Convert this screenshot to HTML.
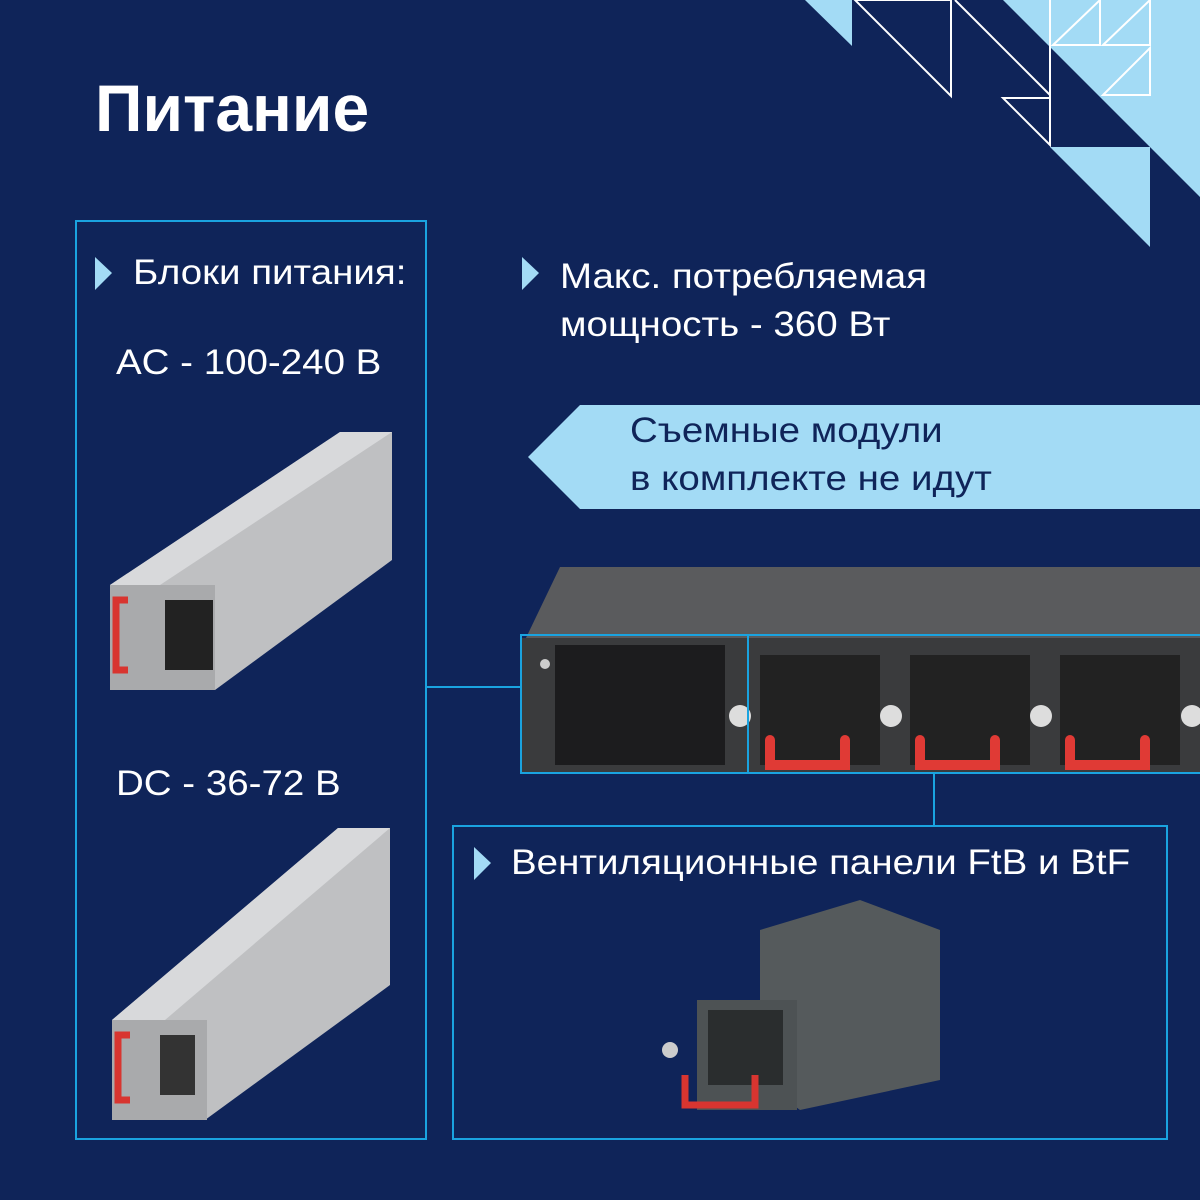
<!DOCTYPE html>
<html><head><meta charset="utf-8"><style>
html,body{margin:0;padding:0;background:#0f2459;}
.t{position:absolute;color:#fff;font-family:"Liberation Sans",sans-serif;white-space:nowrap;transform:scaleX(1.1);transform-origin:0 0}
</style></head><body>
<div style="position:relative;width:1200px;height:1200px;overflow:hidden;background:#0f2459">
<svg width="1200" height="1200" style="position:absolute;left:0;top:0">
<polygon points="805,0 852,0 852,46" fill="#a3dbf5"/>
<polygon points="855,0 951,0 951,96" fill="none" stroke="#fff" stroke-width="2"/>
<polyline points="955,0 1050,95" fill="none" stroke="#fff" stroke-width="2"/>
<polygon points="1003,0 1200,0 1200,197 1050,47" fill="#a3dbf5"/>
<polygon points="1050,147 1150,147 1150,247" fill="#a3dbf5"/>
<line x1="1050" y1="0" x2="1050" y2="145" stroke="#fff" stroke-width="2"/>
<polygon points="1003,98 1050,98 1050,145" fill="none" stroke="#fff" stroke-width="2"/>
<polygon points="1053,45 1100,0 1100,45" fill="none" stroke="#fff" stroke-width="2"/>
<polygon points="1103,45 1150,0 1150,45" fill="none" stroke="#fff" stroke-width="2"/>
<polygon points="1103,95 1150,48 1150,95" fill="none" stroke="#fff" stroke-width="2"/>
<rect x="76" y="221" width="350" height="918" fill="none" stroke="#1aa3e0" stroke-width="2"/>
<rect x="453" y="826" width="714" height="313" fill="none" stroke="#1aa3e0" stroke-width="2"/>
<line x1="427" y1="687" x2="521" y2="687" stroke="#1aa3e0" stroke-width="2"/>
<line x1="934" y1="773" x2="934" y2="826" stroke="#1aa3e0" stroke-width="2"/>
<polygon points="95,257 112,273 95,290" fill="#a3dbf5"/>
<polygon points="522,257 539,273 522,290" fill="#a3dbf5"/>
<polygon points="474,847 491,863 474,880" fill="#a3dbf5"/>
<polygon points="580,405 1200,405 1200,509 580,509 528,457" fill="#a3dbf5"/>
<polygon points="560,567 1200,567 1200,640 525,640" fill="#5a5b5d"/>
<rect x="520" y="638" width="680" height="135" fill="#3a3b3d"/>
<rect x="555" y="645" width="170" height="120" fill="#1c1c1e"/>
<circle cx="545" cy="664" r="5" fill="#ccc"/>
<g>
<rect x="760" y="655" width="120" height="110" fill="#222"/>
<rect x="910" y="655" width="120" height="110" fill="#222"/>
<rect x="1060" y="655" width="120" height="110" fill="#222"/>
<circle cx="740" cy="716" r="11" fill="#ddd"/><circle cx="891" cy="716" r="11" fill="#ddd"/><circle cx="1041" cy="716" r="11" fill="#ddd"/><circle cx="1192" cy="716" r="11" fill="#ddd"/>
<path d="M770,740 v25 h75 v-25" fill="none" stroke="#e03a35" stroke-width="10" stroke-linecap="round"/>
<path d="M920,740 v25 h75 v-25" fill="none" stroke="#e03a35" stroke-width="10" stroke-linecap="round"/>
<path d="M1070,740 v25 h75 v-25" fill="none" stroke="#e03a35" stroke-width="10" stroke-linecap="round"/>
</g>
<rect x="521" y="635" width="227" height="138" fill="none" stroke="#1aa3e0" stroke-width="2"/>
<rect x="748" y="635" width="460" height="138" fill="none" stroke="#1aa3e0" stroke-width="2"/>
<polygon points="110,585 340,432 392,432 392,560 215,690 110,690" fill="#bfc0c2"/>
<polygon points="110,585 340,432 392,432 160,585" fill="#d8d9db"/>
<rect x="110" y="585" width="105" height="105" fill="#a9aaac"/>
<rect x="165" y="600" width="48" height="70" fill="#222"/>
<path d="M128,600 h-12 v70 h12" fill="none" stroke="#d83530" stroke-width="7"/>
<polygon points="112,1020 338,828 390,828 390,985 205,1120 112,1120" fill="#bfc0c2"/>
<polygon points="112,1020 338,828 390,828 165,1020" fill="#d8d9db"/>
<rect x="112" y="1020" width="95" height="100" fill="#a9aaac"/>
<rect x="160" y="1035" width="35" height="60" fill="#333"/>
<path d="M130,1035 h-12 v65 h12" fill="none" stroke="#d83530" stroke-width="7"/>
<polygon points="760,930 860,900 940,930 940,1080 800,1110 760,1080" fill="#555a5c"/>
<rect x="697" y="1000" width="100" height="110" fill="#4d5254"/>
<rect x="708" y="1010" width="75" height="75" fill="#2a2d2e"/>
<path d="M685,1075 v30 h70 v-30" fill="none" stroke="#d83530" stroke-width="7"/>
<circle cx="670" cy="1050" r="8" fill="#ccc"/>
</svg>
<div class="t" style="left:95px;top:70px;font-size:66px;font-weight:bold;transform:none">Питание</div>
<div class="t" style="left:133px;top:253px;font-size:35px">Блоки питания:</div>
<div class="t" style="left:116px;top:343px;font-size:35px">AC - 100-240 В</div>
<div class="t" style="left:116px;top:764px;font-size:35px">DC - 36-72 В</div>
<div class="t" style="left:560px;top:253px;font-size:35px;line-height:48px">Макс. потребляемая<br>мощность - 360 Вт</div>
<div class="t" style="left:630px;top:407px;font-size:35px;line-height:48px;color:#0f2459">Съемные модули<br>в комплекте не идут</div>
<div class="t" style="left:511px;top:843px;font-size:35px">Вентиляционные панели FtB и BtF</div>
</div>
</body></html>
